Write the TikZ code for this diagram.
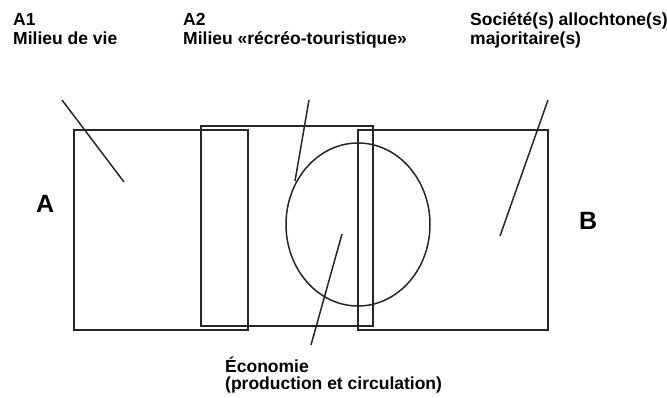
\documentclass[tikz,border=0pt]{standalone}
\usepackage{fontspec}
\setmainfont{Liberation Sans}
\begin{document}
\begin{tikzpicture}[x=1pt,y=-1pt,
  outline/.style={draw=black!85,line width=1.5pt},
  leader/.style={draw=black!85,line width=1.5pt},
  lbl/.style={inner sep=0pt,anchor=base west,align=left,font=\bfseries\fontsize{17.5}{19}\selectfont},
  big/.style={inner sep=0pt,anchor=base west,font=\bfseries\fontsize{25}{28}\selectfont}]
\useasboundingbox (0,0) rectangle (667,398);
% shapes
\draw[outline] (74,130) rectangle (248,330);
\draw[outline] (201,126) rectangle (373,326);
\draw[outline] (358,130) rectangle (548,330);
\draw[outline] (358,224.5) ellipse [x radius=72, y radius=81.5];
% labels (base anchor = baseline of last line)
\node[lbl] (a1) at (13,45) {A1\\Milieu de vie};
\node[lbl] (a2) at (183,45) {A2\\Milieu «récréo-touristique»};
\node[lbl] (soc) at (470,45) {Société(s) allochtone(s)\\majoritaire(s)};
\node[lbl,font=\bfseries\fontsize{17.5}{17}\selectfont] (eco) at (225,389) {Économie\\(production et circulation)};
\node[big] (A) at (36,213) {A};
\node[big] (B) at (579,230) {B};
% leader lines
\coordinate (a1s) at (62,100);  \coordinate (a1e) at (124,182);
\coordinate (a2s) at (309,100); \coordinate (a2e) at (295,181);
\coordinate (socs) at (548,100); \coordinate (soce) at (500,236);
\coordinate (ecos) at (311,345); \coordinate (ecoe) at (342,234);
\draw[leader] (a1s) -- (a1e);
\draw[leader] (a2s) -- (a2e);
\draw[leader] (socs) -- (soce);
\draw[leader] (ecos) -- (ecoe);
\end{tikzpicture}
\end{document}
